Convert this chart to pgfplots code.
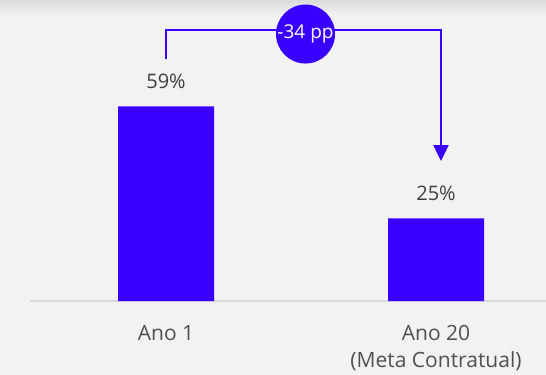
\documentclass[border=0pt]{standalone}
\usepackage{fontspec}
\setmainfont{Open Sans}
\usepackage{pgfplots}
\pgfplotsset{compat=1.18}
\usetikzlibrary{arrows.meta}

\definecolor{barblue}{RGB}{58,0,255}
\definecolor{bg}{RGB}{242,242,242}
\definecolor{shadow}{RGB}{218,218,218}
\definecolor{valtxt}{RGB}{64,64,64}
\definecolor{ticktxt}{RGB}{80,80,80}
\definecolor{baseline}{RGB}{217,217,217}

\newcommand{\valuefont}{\fontsize{20bp}{27bp}\selectfont}
\newcommand{\tickfont}{\fontsize{21bp}{27bp}\selectfont}

\begin{document}
\begin{tikzpicture}
% page background with a soft shadow along the top edge
\useasboundingbox (-30bp,-74bp) rectangle (516bp,301bp);
\fill[bg] (-30bp,-74bp) rectangle (516bp,301bp);
\shade[top color=shadow, bottom color=bg] (-30bp,286bp) rectangle (516bp,301bp);

\begin{axis}[
  at={(0,0)}, anchor=south west,
  scale only axis, width=516bp, height=301bp,
  xmin=-0.5037, xmax=1.4074, ymin=0, ymax=91.21,
  clip=false,
  axis x line*=bottom, axis y line=none,
  x axis line style={draw=baseline, line width=1.5bp, -},
  xtick={0,1},
  xticklabels={Ano 1, {Ano 20\\(Meta Contratual)}},
  major tick length=0pt,
  xticklabel style={anchor=north, inner sep=0pt, yshift=-24bp,
    align=center, text=ticktxt, font=\tickfont},
  ytick=\empty,
  ybar, bar width=96bp,
  nodes near coords={\pgfmathprintnumber{\pgfplotspointmeta}\%},
  every node near coord/.append style={anchor=center, yshift=25bp,
    text=valtxt, font=\valuefont},
  /pgf/number format/assume math mode=true,
]
\addplot[fill=barblue, draw=none] coordinates {(0,59) (1,25)};

% change between the two years
\draw[barblue, line width=2bp, line join=miter,
      -{Triangle[width=15bp,length=16bp]}]
  (axis cs:0,73.3) -- (axis cs:0,82) -- (axis cs:1.0185,82) -- (axis cs:1.0185,42.4);
\node[circle, fill=barblue, minimum size=59bp, inner sep=0pt, text=white,
      font=\fontsize{19bp}{23bp}\selectfont]
  at (axis cs:0.5167,80.9) {-34 pp};
\end{axis}
\end{tikzpicture}
\end{document}
